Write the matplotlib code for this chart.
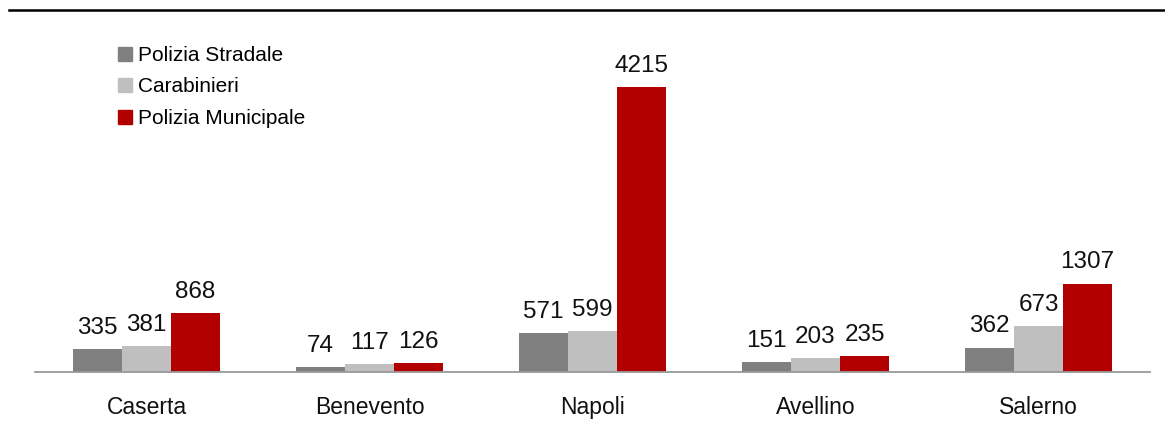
import matplotlib
matplotlib.use("Agg")
from matplotlib import pyplot as plt
from matplotlib.patches import Patch
from matplotlib.lines import Line2D
import numpy as np

# Data
provinces = ["Caserta", "Benevento", "Napoli", "Avellino", "Salerno"]
polizia_stradale = [335, 74, 571, 151, 362]
carabinieri = [381, 117, 599, 203, 673]
polizia_municipale = [868, 126, 4215, 235, 1307]

series_names = ["Polizia Stradale", "Carabinieri", "Polizia Municipale"]
colors = ["#808080", "#BFBFBF", "#B20000"]

plt.rcParams['font.family'] = ['Liberation Sans Narrow', 'Liberation Sans', 'DejaVu Sans']

fig = plt.figure(figsize=(11.65, 4.37), dpi=100)
ax = fig.add_axes([35 / 1165, 65 / 437, 1115 / 1165, 342 / 437])

x = np.arange(len(provinces))
width = 0.22
allSeries = [polizia_stradale, carabinieri, polizia_municipale]

for i, values in enumerate(allSeries):
    pos = x + (i - 1) * width
    ax.bar(pos, values, width, color=colors[i], label=series_names[i])
    for px, v in zip(pos, values):
        ax.annotate(str(v), (px, v), xytext=(0, 11), textcoords="offset points",
                    ha="center", va="baseline", fontsize=17.5, color="#111111")

ax.set_xlim(-0.5, 4.5)
ax.set_ylim(0, 5058)
ax.set_xticks(x)
ax.set_xticklabels(provinces, fontsize=16.5, color="#111111")
ax.tick_params(axis="x", length=0, pad=17)
ax.set_yticks([])
for s in ["top", "right", "left"]:
    ax.spines[s].set_visible(False)
ax.spines["bottom"].set_color("#999999")
ax.spines["bottom"].set_linewidth(1.3)

# Legend in the upper left
handles = [Patch(color=c) for c in colors]
leg = fig.legend(handles, series_names, loc="upper left",
                 bbox_to_anchor=(118 / 1165, 1 - 46 / 437), bbox_transform=fig.transFigure,
                 frameon=False, fontsize=15, handlelength=0.65, handleheight=0.65,
                 handletextpad=0.3, labelspacing=0.6, borderpad=0, borderaxespad=0)

# Top rule
fig.add_artist(Line2D([9 / 1165, 1], [1 - 10 / 437, 1 - 10 / 437], color="black",
                      linewidth=1.8, transform=fig.transFigure))

fig.savefig("out.png", dpi=100)
